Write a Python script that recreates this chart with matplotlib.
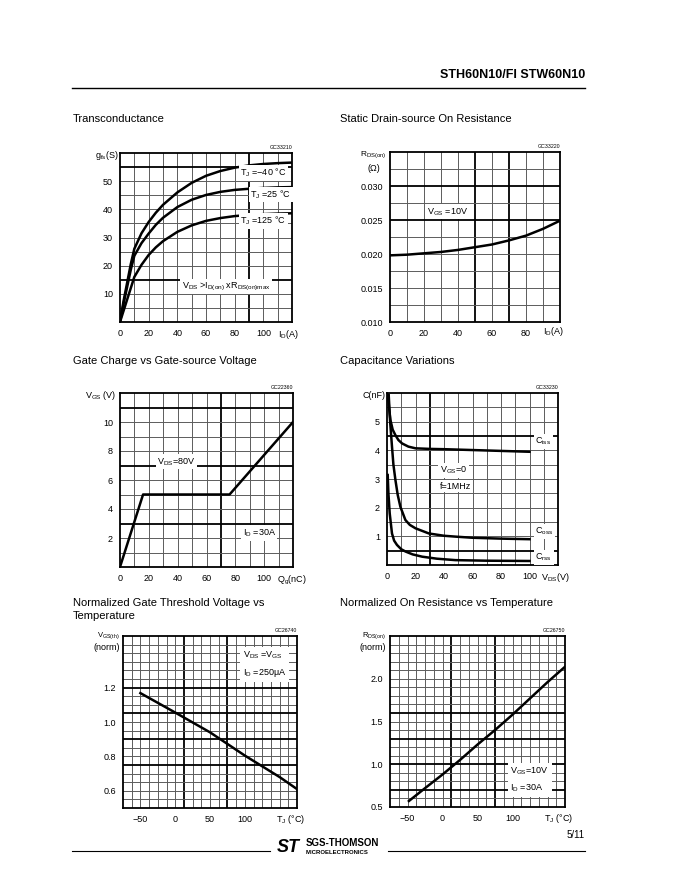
import numpy as np
import matplotlib.pyplot as plt

plt.rcParams['font.family'] = 'Liberation Sans'
plt.rcParams['mathtext.fontset'] = 'custom'
plt.rcParams['mathtext.rm'] = 'Liberation Sans'
plt.rcParams['mathtext.it'] = 'Liberation Sans:italic'
plt.rcParams['mathtext.default'] = 'regular'

# --- data ---
# transconductance gfs (S) vs ID (A)
gfs_id = [0, 2.5, 5, 7.5, 10, 15, 20, 25, 30, 40, 50, 60, 70, 80, 90, 100, 110, 120]
gfs_m40 = [0, 7.5, 14, 20.5, 26, 31.5, 35.5, 38.8, 41.6, 46, 49.4, 51.9, 53.6, 54.8, 55.6, 56.1, 56.4, 56.6]
gfs_25 = [0, 6.5, 12.5, 18.5, 23.5, 28, 31.4, 34.5, 37, 40.8, 43.4, 45.1, 46.2, 46.9, 47.3, 47.6, 47.8, 47.9]
gfs_125 = [0, 4, 8, 12, 16, 20.3, 23.8, 26.5, 28.7, 32, 34.3, 35.9, 36.9, 37.6, 38, 38.3, 38.5, 38.6]

# static drain-source on resistance (ohm) vs ID (A)
rds_id = [0, 10, 20, 30, 40, 50, 60, 70, 80, 90, 100]
rds_on = [0.0198, 0.0199, 0.0201, 0.0203, 0.0206, 0.0210, 0.0214, 0.0220, 0.0227, 0.0237, 0.0249]

# gate charge
qg_nc = [0, 16, 76, 120]
vgs_v = [0, 5, 5, 10]

# capacitances (nF) vs VDS (V)
ciss_v = [0.7, 1.5, 2.4, 4, 5.9, 8, 10.6, 15, 20, 30, 40, 60, 80, 100]
ciss = [5.93, 5.45, 5.06, 4.72, 4.53, 4.36, 4.24, 4.13, 4.07, 4.05, 4.04, 4.01, 3.98, 3.95]
coss_v = [1.2, 2.2, 3.5, 4.5, 5.9, 7.5, 9.4, 12.9, 16, 20, 29.4, 40, 48, 60, 80, 100]
coss = [5.93, 5.0, 4.13, 3.5, 2.97, 2.45, 2.03, 1.57, 1.4, 1.28, 1.1, 1.02, 0.99, 0.95, 0.92, 0.9]
crss_v = [0.5, 1.0, 1.9, 3.5, 5, 7, 10, 13, 18, 24.7, 35, 48, 70, 100]
crss = [3.14, 2.5, 1.8, 1.1, 0.85, 0.7, 0.55, 0.47, 0.37, 0.29, 0.22, 0.17, 0.15, 0.14]

# normalized gate threshold voltage vs Tj
vth_tj = [-50, 0, 50, 100, 150, 175]
vth_norm = [1.168, 1.055, 0.94, 0.805, 0.68, 0.61]

# normalized on resistance vs Tj
ron_tj = [-48, -25, 0, 25, 50, 75, 100, 125, 150, 175]
ron_norm = [0.57, 0.72, 0.88, 1.05, 1.23, 1.40, 1.58, 1.77, 1.96, 2.14]

W, H = 680, 880
fig = plt.figure(figsize=(6.8, 8.8), dpi=100)


def box(l, t, r, b):
    return fig.add_axes([l / W, 1 - b / H, (r - l) / W, (b - t) / H])


def page_text(x, y, s, **kw):
    fig.text(x / W, 1 - y / H, s, **kw)


def grid_panel(ax, xlim, ylim, xstep, ystep, xthick, ythick, xticks, xlabels, yticks, ylabels):
    ax.set_xlim(xlim)
    ax.set_ylim(ylim)
    nx = int(round((xlim[1] - xlim[0]) / xstep))
    ny = int(round((ylim[1] - ylim[0]) / ystep))
    for i in range(1, nx):
        x = xlim[0] + i * xstep
        thick = any(abs(x - t) < xstep * 0.01 for t in xthick)
        ax.axvline(x, color='black' if thick else '#5c5c5c', lw=1.3 if thick else 0.7, zorder=1)
    for i in range(1, ny):
        y = ylim[0] + i * ystep
        thick = any(abs(y - t) < ystep * 0.01 for t in ythick)
        ax.axhline(y, color='black' if thick else '#5c5c5c', lw=1.3 if thick else 0.7, zorder=1)
    ax.set_xticks(xticks)
    ax.set_xticklabels(xlabels)
    ax.set_yticks(yticks)
    ax.set_yticklabels(ylabels)
    ax.tick_params(length=0, labelsize=6.5, pad=5)
    for sp in ax.spines.values():
        sp.set_linewidth(1.3)


def label_box(ax, x, y, s, **kw):
    ax.text(x, y, s, fontsize=6.5, zorder=4,
            bbox=dict(facecolor='white', edgecolor='none', pad=1.2), **kw)


def code(ax, s):
    ax.text(1.0, 1.015, s, transform=ax.transAxes, ha='right', va='bottom', fontsize=3.8)


# header / footer
page_text(585, 75, 'STH60N10/FI STW60N10', ha='right', va='center', fontsize=9, fontweight='bold')
fig.add_artist(plt.Line2D([72 / W, 585 / W], [1 - 88 / H, 1 - 88 / H], color='black', lw=1))
page_text(73, 119, 'Transconductance', va='center', fontsize=8)
page_text(340, 119, 'Static Drain-source On Resistance', va='center', fontsize=8)
page_text(73, 361, 'Gate Charge vs Gate-source Voltage', va='center', fontsize=8)
page_text(340, 361, 'Capacitance Variations', va='center', fontsize=8)
page_text(73, 603, 'Normalized Gate Threshold Voltage vs', va='center', fontsize=8)
page_text(73, 616, 'Temperature', va='center', fontsize=8)
page_text(340, 603, 'Normalized On Resistance vs Temperature', va='center', fontsize=8)

page_text(585, 835, '5/11', ha='right', va='center', fontsize=7)
fig.add_artist(plt.Line2D([72 / W, 270 / W], [1 - 851 / H, 1 - 851 / H], color='black', lw=0.8))
fig.add_artist(plt.Line2D([388 / W, 585 / W], [1 - 851 / H, 1 - 851 / H], color='black', lw=0.8))
page_text(288, 847, 'ST', ha='center', va='center', fontsize=13, fontweight='heavy', style='italic')
page_text(306, 843, 'SGS-THOMSON', va='center', fontsize=7, fontweight='bold')
page_text(306, 852, 'MICROELECTRONICS', va='center', fontsize=4.3, fontweight='bold')

# 1 transconductance
ax = box(120, 153, 292, 322)
grid_panel(ax, (0, 120), (0, 60), 10, 5, [90], [55, 15],
           [0, 20, 40, 60, 80, 100], ['0', '20', '40', '60', '80', '100'],
           [10, 20, 30, 40, 50], ['10', '20', '30', '40', '50'])
ax.plot(gfs_id, gfs_m40, color='black', lw=1.8, zorder=3)
ax.plot(gfs_id, gfs_25, color='black', lw=1.8, zorder=3)
ax.plot(gfs_id, gfs_125, color='black', lw=1.8, zorder=3)
label_box(ax, 84, 53, r'$T_J$ =$-$40 °C', va='center')
label_box(ax, 91, 45.3, r'$T_J$ =25 °C', va='center')
label_box(ax, 84, 35.8, r'$T_J$ =125 °C', va='center')
label_box(ax, 43, 12.6, r'$V_{DS}$ >$I_{D(on)}$ x$R_{DS(on)max}$', va='center')
ax.text(-0.01, 0.985, r'$g_{fs}$(S)', transform=ax.transAxes, ha='right', va='center', fontsize=6.5)
ax.text(110, -2.2, r'$I_D$(A)', ha='left', va='top', fontsize=6.5)
code(ax, 'GC33210')

# 2 static drain-source on resistance
ax = box(390, 152, 560, 322)
grid_panel(ax, (0, 100), (0.010, 0.035), 10, 0.0025, [50, 70], [0.030, 0.025],
           [0, 20, 40, 60, 80], ['0', '20', '40', '60', '80'],
           [0.010, 0.015, 0.020, 0.025, 0.030], ['0.010', '0.015', '0.020', '0.025', '0.030'])
ax.plot(rds_id, rds_on, color='black', lw=1.8, zorder=3)
label_box(ax, 22, 0.0262, r'$V_{GS}$ =10V', va='center')
ax.text(-0.02, 0.985, r'$R_{DS(on)}$', transform=ax.transAxes, ha='right', va='center', fontsize=6)
ax.text(-0.06, 0.905, '(Ω)', transform=ax.transAxes, ha='right', va='center', fontsize=6.5)
ax.text(90, 0.0096, r'$I_D$(A)', ha='left', va='top', fontsize=6.5)
code(ax, 'GC33220')

# 3 gate charge
ax = box(120, 393, 293, 567)
grid_panel(ax, (0, 120), (0, 12), 10, 1, [70], [11, 7, 3],
           [0, 20, 40, 60, 80, 100], ['0', '20', '40', '60', '80', '100'],
           [2, 4, 6, 8, 10], ['2', '4', '6', '8', '10'])
ax.plot(qg_nc, vgs_v, color='black', lw=1.8, zorder=3)
label_box(ax, 26, 7.25, r'$V_{DS}$=80V', va='center')
label_box(ax, 85, 2.35, r'$I_D$ =30A', va='center')
ax.text(-0.02, 0.985, r'$V_{GS}$ (V)', transform=ax.transAxes, ha='right', va='center', fontsize=6.5)
ax.text(109, -0.45, r'$Q_g$(nC)', ha='left', va='top', fontsize=6.5)
code(ax, 'GC22360')

# 4 capacitance variations
ax = box(387, 393, 558, 565)
grid_panel(ax, (0, 120), (0, 6), 10, 0.5, [30], [4.5, 0.5],
           [0, 20, 40, 60, 80, 100], ['0', '20', '40', '60', '80', '100'],
           [1, 2, 3, 4, 5], ['1', '2', '3', '4', '5'])
ax.plot(ciss_v, ciss, color='black', lw=1.8, zorder=3)
ax.plot(coss_v, coss, color='black', lw=1.8, zorder=3)
ax.plot(crss_v, crss, color='black', lw=1.8, zorder=3)
label_box(ax, 104, 4.3, r'$C_{iss}$', va='center')
label_box(ax, 104, 1.17, r'$C_{oss}$', va='center')
label_box(ax, 104, 0.26, r'$C_{rss}$', va='center')
label_box(ax, 37, 3.3, r'$V_{GS}$=0', va='center')
label_box(ax, 37, 2.75, 'f=1MHz', va='center')
ax.text(-0.01, 0.985, 'C(nF)', transform=ax.transAxes, ha='right', va='center', fontsize=6.5)
ax.text(108, -0.22, r'$V_{DS}$(V)', ha='left', va='top', fontsize=6.5)
code(ax, 'GC33230')

# 5 normalized gate threshold voltage
ax = box(123, 636, 297, 808)
grid_panel(ax, (-75, 175), (0.5, 1.5), 12.5, 0.05, [12.5, 75], [1.2, 1.05, 0.9, 0.75],
           [-50, 0, 50, 100], ['−50', '0', '50', '100'],
           [0.6, 0.8, 1.0, 1.2], ['0.6', '0.8', '1.0', '1.2'])
ax.plot(vth_tj, vth_norm, color='black', lw=1.8, zorder=3)
ax.text(97, 1.42, r'$V_{DS}$ =$V_{GS}$' + '\n' + r'$I_D$ =250$\mu$A', fontsize=6.5, va='top',
        linespacing=1.5, zorder=4, bbox=dict(facecolor='white', edgecolor='none', pad=2))
ax.text(-0.02, 1.0, r'$V_{GS(th)}$', transform=ax.transAxes, ha='right', va='center', fontsize=5.5)
ax.text(-0.02, 0.935, '(norm)', transform=ax.transAxes, ha='right', va='center', fontsize=6.5)
ax.text(145, 0.47, r'$T_J$ (°C)', ha='left', va='top', fontsize=6.5)
code(ax, 'GC26740')

# 6 normalized on resistance
ax = box(390, 636, 565, 807)
grid_panel(ax, (-75, 175), (0.5, 2.5), 12.5, 0.1, [12.5, 75], [1.6, 1.3, 1.0, 0.7],
           [-50, 0, 50, 100], ['−50', '0', '50', '100'],
           [0.5, 1.0, 1.5, 2.0], ['0.5', '1.0', '1.5', '2.0'])
ax.plot(ron_tj, ron_norm, color='black', lw=1.8, zorder=3)
ax.text(97, 0.98, r'$V_{GS}$=10V' + '\n' + r'$I_D$ =30A', fontsize=6.5, va='top',
        linespacing=1.5, zorder=4, bbox=dict(facecolor='white', edgecolor='none', pad=2))
ax.text(-0.02, 1.0, r'$R_{DS(on)}$', transform=ax.transAxes, ha='right', va='center', fontsize=5.5)
ax.text(-0.02, 0.935, '(norm)', transform=ax.transAxes, ha='right', va='center', fontsize=6.5)
ax.text(145, 0.44, r'$T_J$ (°C)', ha='left', va='top', fontsize=6.5)
code(ax, 'GC26750')

fig.savefig('out.png', dpi=100, facecolor='white')
